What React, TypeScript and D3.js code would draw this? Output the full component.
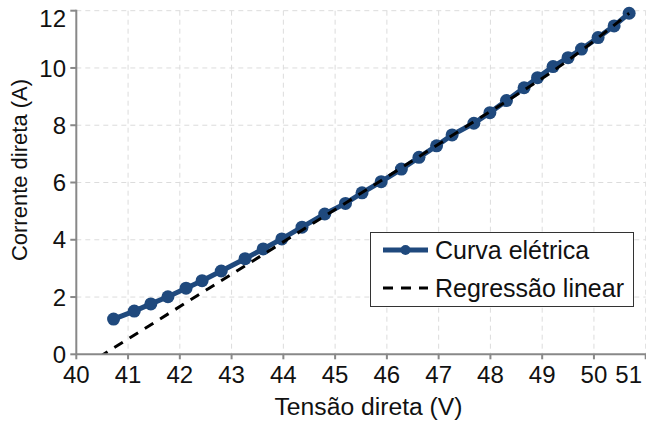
import React from 'react';
import * as d3 from 'd3';

// Tensão direta (V) / Corrente direta (A)
const voltage = [40.72, 41.12, 41.44, 41.77, 42.12, 42.43, 42.80, 43.26, 43.61, 43.97, 44.36, 44.80, 45.20,
  45.52, 45.89, 46.28, 46.62, 46.96, 47.26, 47.68, 47.99, 48.31, 48.65, 48.91, 49.21, 49.50, 49.76, 50.08, 50.39, 50.68];
const current = [1.23, 1.51, 1.76, 2.01, 2.31, 2.57, 2.91, 3.34, 3.68, 4.03, 4.44, 4.90, 5.27,
  5.64, 6.03, 6.47, 6.88, 7.28, 7.66, 8.07, 8.44, 8.86, 9.31, 9.66, 10.05, 10.36, 10.66, 11.06, 11.47, 11.91];

// regression line
const regX = [40.44, 42.55, 45.25, 47.45, 49.55, 50.68];
const regY = [-0.1, 2.29, 5.34, 7.86, 10.33, 11.91];

const xTicks = [40, 41, 42, 43, 44, 45, 46, 47, 48, 49, 50, 51];
const yTicks = [0, 2, 4, 6, 8, 10, 12];

const W = 646, H = 423;
const left = 76.3, right = 645.7, top = 10.7, bottom = 354.3;
const blue = '#1f497d';
const axisGray = '#888';
const font = 'Liberation Sans, Arial, sans-serif';

export default function App() {
  const x = d3.scaleLinear().domain([40, 51]).range([left, right]);
  const y = d3.scaleLinear().domain([0, 12]).range([bottom, top]);

  const pts: [number, number][] = voltage.map((v, i) => [v, current[i]]);
  const line = d3.line<[number, number]>().x(d => x(d[0])).y(d => y(d[1]));
  const regLine = d3.line<[number, number]>().x(d => x(d[0])).y(d => y(d[1])).curve(d3.curveMonotoneX);
  const reg: [number, number][] = regX.map((v, i) => [v, regY[i]]);

  return (
    <svg width={W} height={H} style={{ position: 'absolute', left: 0, top: 0 }} fontFamily={font}>
      <defs>
        <clipPath id="plot">
          <rect x={left} y={0} width={W - left} height={bottom} />
        </clipPath>
      </defs>
      <rect width={W} height={H} fill="#fff" />
      {/* grid */}
      <g stroke="#dcdcdc" strokeWidth={1} strokeDasharray="5,4">
        {xTicks.slice(1).map(t => (
          <line key={'gx' + t} x1={x(t)} x2={x(t)} y1={top} y2={bottom} />
        ))}
        {yTicks.slice(1).map(t => (
          <line key={'gy' + t} x1={left} x2={right} y1={y(t)} y2={y(t)} />
        ))}
      </g>

      {/* series */}
      <path d={line(pts) || ''} fill="none" stroke={blue} strokeWidth={5} />
      {pts.map((d, i) => (
        <circle key={i} cx={x(d[0])} cy={y(d[1])} r={6.5} fill={blue} />
      ))}
      <path d={regLine(reg) || ''} fill="none" stroke="#000" strokeWidth={3} strokeDasharray="10,8" clipPath="url(#plot)" />

      {/* axes */}
      <g stroke={axisGray} strokeWidth={2}>
        <line x1={left} x2={left} y1={top - 1} y2={bottom} />
        <line x1={left} x2={W} y1={bottom} y2={bottom} />
        {yTicks.map(t => (
          <line key={'ty' + t} x1={left - 6} x2={left} y1={y(t)} y2={y(t)} />
        ))}
        {xTicks.map(t => (
          <line key={'tx' + t} x1={x(t)} x2={x(t)} y1={bottom} y2={bottom + 5} />
        ))}
      </g>
      <g fontSize={24} fill="#111">
        {yTicks.map(t => (
          <text key={'ly' + t} x={66} y={Math.max(y(t), 18.5)} dy="0.36em" textAnchor="end">{t}</text>
        ))}
        {xTicks.map(t => {
          const px = x(t);
          const last = px + 14 > W;
          return (
            <text key={'lx' + t} x={last ? 642 : px} y={383} textAnchor={last ? 'end' : 'middle'}>{t}</text>
          );
        })}
      </g>
      <text x={368.5} y={415} fontSize={24.7} textAnchor="middle" fill="#111">Tensão direta (V)</text>
      <text transform={`translate(27,170) rotate(-90)`} fontSize={22} textAnchor="middle" fill="#111">Corrente direta (A)</text>

      {/* legend */}
      <rect x={370.5} y={232.5} width={263} height={74} fill="#fff" stroke="#333" strokeWidth={1} />
      <line x1={383} x2={428} y1={250} y2={250} stroke={blue} strokeWidth={5} />
      <circle cx={405.5} cy={250} r={5} fill={blue} />
      <line x1={383} x2={428} y1={288} y2={288} stroke="#000" strokeWidth={3} strokeDasharray="10,8" />
      <text x={435} y={259} fontSize={25} fill="#111">Curva elétrica</text>
      <text x={435} y={297} fontSize={25} fill="#111">Regressão linear</text>
    </svg>
  );
}
